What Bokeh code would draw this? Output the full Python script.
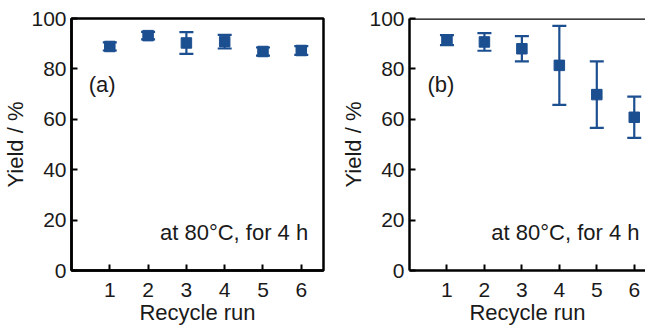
from bokeh.plotting import figure
from bokeh.models import ColumnDataSource, Whisker, TeeHead, FixedTicker, Range1d, Label, Span
from bokeh.layouts import row
from bokeh.embed import file_html
from bokeh.resources import INLINE

# ---- data ----
runs = [1, 2, 3, 4, 5, 6]
yield_a = [88.9, 93.2, 90.3, 90.8, 86.9, 87.3]
err_a = [1.6, 1.5, 4.3, 2.7, 1.6, 1.7]
yield_b = [91.4, 90.7, 88.0, 81.4, 69.8, 60.8]
err_b = [2.0, 3.5, 5.0, 15.7, 13.2, 8.2]
y_ticks = [0, 20, 40, 60, 80, 100]
panel_tags = ["(a)", "(b)"]
condition = "at 80°C, for 4 h"
x_label = "Recycle run"
y_label = "Yield / %"

FONT = "Liberation Sans"
BLUE = "#1c4f90"
TXT = "#1a1a1a"
H = 330


def make(yv, ev, tag, width, left, right, top, x_end, outline, tag_x, cond_x):
    src = ColumnDataSource(dict(
        x=runs, y=yv,
        lo=[a - b for a, b in zip(yv, ev)],
        hi=[a + b for a, b in zip(yv, ev)],
    ))
    p = figure(width=width, height=H, x_range=Range1d(0, x_end), y_range=Range1d(0, 100),
               output_backend="svg", toolbar_location=None,
               min_border_left=left, min_border_right=right, min_border_top=top, min_border_bottom=60)
    p.grid.visible = False
    p.outline_line_color = "black" if outline else None
    p.outline_line_width = 2.5
    p.outline_line_alpha = 1
    for ax in (p.xaxis[0], p.yaxis[0]):
        ax.axis_line_width = 2.5
        ax.axis_line_color = "black"
        ax.major_tick_in = 6
        ax.major_tick_out = 0
        ax.major_tick_line_width = 2
        ax.major_tick_line_color = "black"
        ax.minor_tick_in = 0
        ax.minor_tick_out = 0
        ax.major_label_text_font = FONT
        ax.major_label_text_font_size = "21px"
        ax.major_label_text_color = TXT
        ax.axis_label_text_font = FONT
        ax.axis_label_text_font_size = "22px"
        ax.axis_label_text_font_style = "normal"
        ax.axis_label_text_color = TXT
    p.xaxis.ticker = FixedTicker(ticks=runs)
    p.yaxis.ticker = FixedTicker(ticks=y_ticks)
    p.xaxis.axis_label = x_label
    p.yaxis.axis_label = y_label
    p.xaxis.major_label_standoff = 12
    p.xaxis.axis_label_standoff = 0
    p.yaxis.major_label_standoff = 5
    p.yaxis.axis_label_standoff = 0

    if not outline:
        p.add_layout(Span(location=100, dimension="width", line_color="black", line_width=2.5))

    wh = Whisker(source=src, base="x", upper="hi", lower="lo", line_color=BLUE, line_width=2.2,
                 upper_head=TeeHead(size=14, line_color=BLUE, line_width=2.2),
                 lower_head=TeeHead(size=14, line_color=BLUE, line_width=2.2))
    p.add_layout(wh)
    p.scatter("x", "y", source=src, marker="square", size=10.5, color=BLUE)

    p.add_layout(Label(x=tag_x, y=74, text=tag, text_baseline="middle", text_font=FONT,
                       text_font_size="22px", text_color=TXT))
    p.add_layout(Label(x=cond_x, y=15, text=condition, text_align="right", text_baseline="middle",
                       text_font=FONT, text_font_size="22px", text_color=TXT))
    return p


pa = make(yield_a, err_a, panel_tags[0], 338, 69, 15, 16, 6.58, True, 0.45, 6.18)
pb = make(yield_b, err_b, panel_tags[1], 307, 64, 0, 18, 6.3, False, 0.48, 6.14)

layout = row(pa, pb)
open("out.html", "w").write(file_html(layout, INLINE))
